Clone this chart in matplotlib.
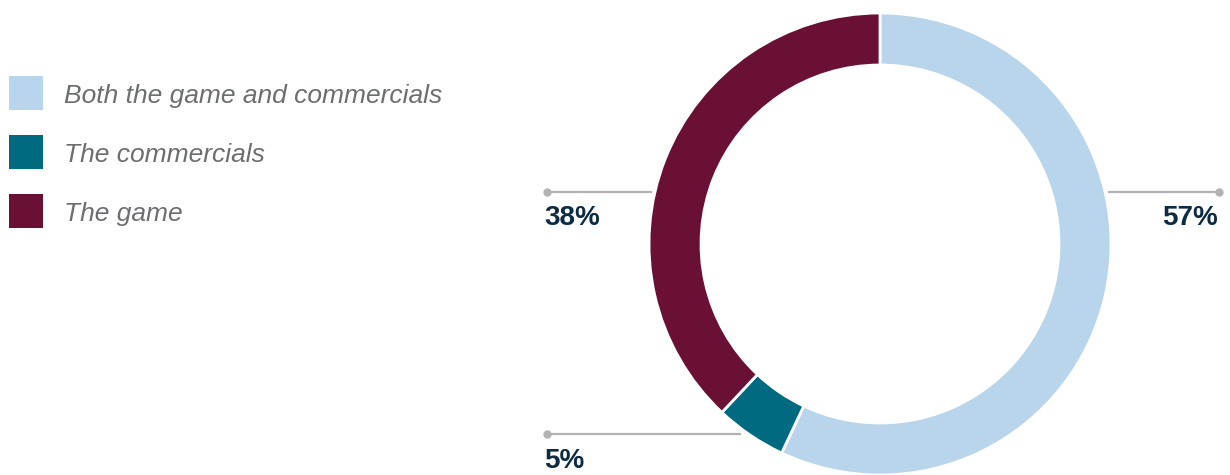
import matplotlib
matplotlib.use("Agg")
import matplotlib.pyplot as plt

categories = ["Both the game and commercials", "The commercials", "The game"]
shares = [57, 5, 38]
colors = ["#b9d5ec", "#006b80", "#6a1035"]

INK = "#0d2b42"
GREY_TXT = "#6d6e71"
LEADER = "#b3b3b3"

W, H = 1230, 475
fig = plt.figure(figsize=(W / 100, H / 100), dpi=100)
ax = fig.add_axes([0, 0, 1, 1])

# donut, clockwise from 12 o'clock
cx, cy, r_out = 880, 231, 231
ax.pie(shares, colors=colors, startangle=90, counterclock=False,
       center=(cx, cy), radius=r_out, frame=True,
       wedgeprops=dict(width=52, edgecolor="white", linewidth=2))
ax.set_xlim(0, W)
ax.set_ylim(0, H)
ax.set_aspect("equal")
ax.axis("off")

# leader lines + value labels: (x0, x1, y, dot_x, label_x, ha, baseline)
leaders = [
    (1108, 1219, 283, 1219, 1218, "right", 250),
    (547, 741, 41, 547, 544, "left", 7),
    (547, 652, 283, 547, 544, "left", 250),
]
for (x0, x1, y, dx, lx, ha, ly), v in zip(leaders, shares):
    ax.plot([x0, x1], [y, y], color=LEADER, lw=1.6, solid_capstyle="butt")
    ax.plot([dx], [y], "o", color=LEADER, ms=5)
    ax.text(lx, ly, f"{v}%", ha=ha, va="baseline", fontsize=20,
            fontweight="bold", color=INK, family="Liberation Sans")

# legend
for i, (lab, col) in enumerate(zip(categories, colors)):
    y = 382 - i * 59
    ax.add_patch(plt.Rectangle((9, y - 17), 34, 34, color=col, lw=0))
    ax.text(64, y - 10, lab, ha="left", va="baseline", fontsize=19,
            style="italic", color=GREY_TXT, family="Liberation Sans")

fig.savefig("out.png", dpi=100)
